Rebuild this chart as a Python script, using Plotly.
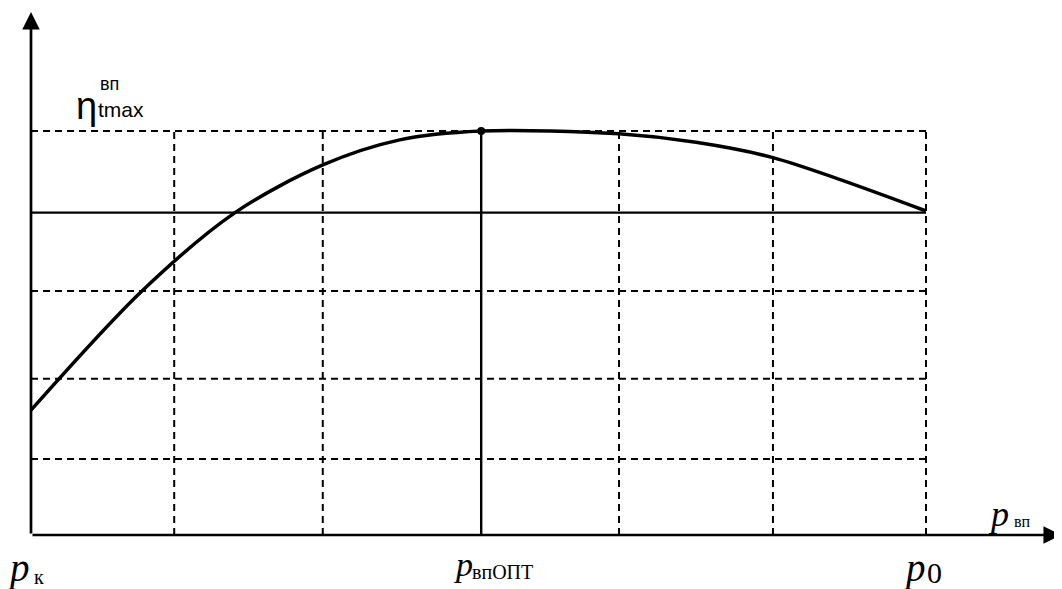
import plotly.graph_objects as go

# Efficiency curve (relative units): x = p from p_k (0) to p0 (10), y in % of max
x_curve = [0, 1.24, 2.28, 3.26, 4.12, 5.03, 6.57, 7.43, 8.29, 10]
y_curve = [30.9, 60.4, 79.8, 91.6, 97.8, 100, 99.3, 97.2, 93.4, 80.2]

grid_x = [1.60, 3.26, 6.57, 8.29, 10]
grid_y = [18.8, 38.7, 60.4, 100]
ref_y = 79.8
opt_x = 5.03
eta_max = 100
x_end = 10

# page body offset (8px) compensated
OFF = 8
SX, SY = 89.5, 4.04
X_MIN = -(31 - OFF) / SX
X_MAX = X_MIN + 1062 / SX
Y_MAX = (535 - OFF) / SY
Y_MIN = Y_MAX - 589 / SY

fig = go.Figure()

dash = "7px,5px"
gx, gy = [], []
for v in grid_x:
    gx += [v, v, None]
    gy += [0, eta_max, None]
fig.add_trace(go.Scatter(x=gx, y=gy, mode="lines",
                         line=dict(color="black", width=2, dash=dash), hoverinfo="skip"))
hx, hy = [], []
for h in grid_y:
    hx += [0, x_end, None]
    hy += [h, h, None]
fig.add_trace(go.Scatter(x=hx, y=hy, mode="lines",
                         line=dict(color="black", width=2, dash=dash), hoverinfo="skip"))
fig.add_trace(go.Scatter(x=[0, x_end], y=[ref_y, ref_y], mode="lines",
                         line=dict(color="black", width=2.2), hoverinfo="skip"))
fig.add_trace(go.Scatter(x=[opt_x, opt_x], y=[0, eta_max], mode="lines",
                         line=dict(color="black", width=2.4), hoverinfo="skip"))
fig.add_trace(go.Scatter(x=x_curve, y=y_curve, mode="lines",
                         line=dict(color="black", width=3.5, shape="spline", smoothing=0.9),
                         hoverinfo="skip"))
fig.add_trace(go.Scatter(x=[opt_x], y=[eta_max], mode="markers",
                         marker=dict(color="black", size=8), hoverinfo="skip"))

# axes with arrows
fig.add_annotation(x=0, y=(535 - 12) / SY, ax=0, ay=0, xref="x", yref="y", axref="x", ayref="y",
                   showarrow=True, arrowhead=2, arrowsize=1.3, arrowwidth=2.7, arrowcolor="black", text="")
fig.add_annotation(x=(1061 - 31) / SX, y=0, ax=0, ay=0, xref="x", yref="y", axref="x", ayref="y",
                   showarrow=True, arrowhead=2, arrowsize=1.3, arrowwidth=2.7, arrowcolor="black", text="")

serif = "Liberation Serif"
sans = "Liberation Sans"

def txt(text, px, py, size, family, italic=False):
    fig.add_annotation(x=(px - OFF) / 1062, y=1 - (py - OFF) / 589, xref="paper", yref="paper",
                       text=text, showarrow=False, xanchor="left", yanchor="middle",
                       font=dict(family=family, size=size, color="black",
                                 style="italic" if italic else "normal"))

# eta label
txt("η", 74, 106, 38, sans)
txt("tmax", 96, 110, 21, sans)
txt("вп", 98, 84, 18, sans)

# p_k
txt("p", 5, 568, 39, serif, italic=True)
txt("к", 32, 577, 20, serif)
# p_вп ОПТ
txt("p", 452, 564, 34, serif, italic=True)
txt("впОПТ", 470, 572, 20, serif)
# p0
txt("p", 901, 568, 39, serif, italic=True)
txt("0", 925, 572, 30, serif)
# p_вп axis label
txt("p", 986, 514, 36, serif, italic=True)
txt("вп", 1012, 521, 16, serif)

fig.update_xaxes(visible=False, range=[X_MIN, X_MAX], fixedrange=True)
fig.update_yaxes(visible=False, range=[Y_MIN, Y_MAX], fixedrange=True)
fig.update_layout(width=1062, height=589, margin=dict(l=0, r=0, t=0, b=0),
                  plot_bgcolor="white", paper_bgcolor="white", showlegend=False)

fig.write_html("out.html")
